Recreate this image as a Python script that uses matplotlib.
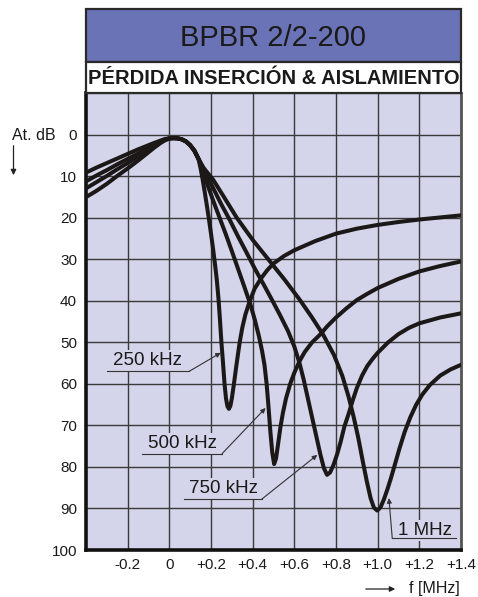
import matplotlib
matplotlib.use('Agg')
import matplotlib.pyplot as plt
from matplotlib.patches import Rectangle, FancyArrowPatch
from matplotlib import font_manager

# Attenuation curves (f offset in MHz, attenuation in dB)
f_250k = [-0.4, -0.35, -0.3, -0.25, -0.2, -0.15, -0.1, -0.07, -0.04, -0.02, 0.0, 0.02, 0.04,
          0.06, 0.08, 0.1, 0.12, 0.14, 0.15, 0.16, 0.17, 0.18, 0.19, 0.2, 0.21, 0.22, 0.228,
          0.236, 0.243, 0.25, 0.257, 0.265, 0.272, 0.279, 0.286, 0.293, 0.3, 0.31, 0.322, 0.337,
          0.35, 0.365, 0.385, 0.41, 0.44, 0.47, 0.5, 0.55, 0.6, 0.7, 0.8, 0.9, 1.0, 1.1, 1.2,
          1.3, 1.4]
at_250k = [15.0, 13.5, 11.8, 9.9, 8.1, 6.2, 4.2, 3.0, 1.9, 1.3, 0.9, 0.8, 0.85,
           1.1, 1.6, 2.5, 3.8, 5.8, 8.1, 10.8, 13.8, 17.0, 20.3, 23.8, 27.5, 31.5, 35.0,
           39.5, 44.5, 50.0, 54.5, 60.0, 63.5, 65.4, 66.0, 65.3, 63.5, 60.0, 55.5, 50.2,
           46.5, 43.3, 40.2, 37.0, 34.6, 32.6, 31.0, 29.2, 27.8, 25.6, 23.8, 22.6, 21.7, 21.0, 20.4,
           19.9, 19.4]

f_500k = [-0.4, -0.35, -0.3, -0.25, -0.2, -0.15, -0.1, -0.07, -0.04, -0.02, 0.0, 0.02, 0.04,
          0.06, 0.08, 0.1, 0.12, 0.14, 0.155, 0.17, 0.19, 0.21, 0.24, 0.27, 0.3, 0.33, 0.36,
          0.39, 0.41, 0.43, 0.445, 0.457, 0.467, 0.476, 0.485, 0.494, 0.503, 0.512, 0.522, 0.533,
          0.545, 0.56, 0.58, 0.6, 0.625, 0.65, 0.685, 0.722, 0.76, 0.8, 0.85, 0.9, 0.95, 1.0,
          1.1, 1.2, 1.3, 1.4]
at_500k = [12.9, 11.4, 9.9, 8.3, 6.8, 5.2, 3.6, 2.6, 1.7, 1.2, 0.85, 0.8, 0.85,
           1.1, 1.6, 2.5, 3.8, 5.8, 7.9, 10.2, 13.0, 15.8, 19.8, 23.8, 28.0, 32.3, 36.6,
           41.0, 44.5, 48.5, 52.0, 55.5, 60.0, 65.5, 71.5, 76.5, 79.3, 78.0, 74.5, 70.5,
           67.0, 63.5, 60.0, 57.3, 54.5, 52.3, 50.0, 48.2, 46.0, 44.0, 41.8, 39.8, 38.3, 36.9,
           34.7, 32.9, 31.6, 30.5]

f_750k = [-0.4, -0.35, -0.3, -0.25, -0.2, -0.15, -0.1, -0.07, -0.04, -0.02, 0.0, 0.02, 0.04,
          0.06, 0.08, 0.1, 0.12, 0.14, 0.16, 0.19, 0.22, 0.25, 0.29, 0.33, 0.37, 0.41, 0.45,
          0.49, 0.53, 0.57, 0.6, 0.625, 0.645, 0.665, 0.685, 0.705, 0.725, 0.742, 0.757, 0.772,
          0.788, 0.805, 0.822, 0.84, 0.86, 0.88, 0.9, 0.925, 0.95, 0.975, 1.0, 1.05, 1.1, 1.15,
          1.2, 1.3, 1.4]
at_750k = [11.2, 9.8, 8.5, 7.1, 5.8, 4.5, 3.1, 2.3, 1.55, 1.1, 0.85, 0.8, 0.85,
           1.1, 1.6, 2.5, 3.8, 5.8, 7.9, 10.8, 13.8, 16.8, 20.5, 24.5, 28.3, 32.2, 35.8,
           39.5, 43.3, 47.3, 51.0, 55.0, 59.0, 63.5, 68.0, 72.5, 77.0, 80.3, 81.9, 81.3,
           79.5, 77.0, 74.0, 70.3, 67.3, 64.0, 61.0, 58.0, 55.7, 54.0, 52.5, 50.0, 48.0, 46.5,
           45.4, 44.0, 43.0]

f_1m = [-0.4, -0.35, -0.3, -0.25, -0.2, -0.15, -0.1, -0.07, -0.04, -0.02, 0.0, 0.02, 0.04,
        0.06, 0.08, 0.1, 0.12, 0.14, 0.165, 0.21, 0.26, 0.324, 0.4, 0.48, 0.555, 0.627, 0.685,
        0.739, 0.79, 0.83, 0.86, 0.885, 0.907, 0.928, 0.948, 0.966, 0.982, 0.998, 1.014, 1.03,
        1.048, 1.066, 1.085, 1.105, 1.13, 1.157, 1.185, 1.215, 1.25, 1.3, 1.35, 1.4]
at_1m = [9.1, 7.9, 6.8, 5.7, 4.6, 3.5, 2.5, 1.9, 1.35, 1.0, 0.85, 0.8, 0.85,
         1.1, 1.6, 2.5, 3.8, 5.8, 8.0, 10.8, 14.8, 20.0, 25.3, 30.3, 35.0, 39.8, 44.0,
         48.2, 53.0, 58.0, 63.0, 68.0, 73.0, 78.5, 83.5, 87.5, 89.8, 90.5, 89.7, 87.8,
         85.2, 82.3, 79.0, 75.5, 71.5, 68.0, 65.0, 62.5, 60.3, 58.0, 56.5, 55.4]

x_ticks = [-0.2, 0.0, 0.2, 0.4, 0.6, 0.8, 1.0, 1.2, 1.4]
x_labels = ['-0.2', '0', '+0.2', '+0.4', '+0.6', '+0.8', '+1.0', '+1.2', '+1.4']
y_ticks = [0, 10, 20, 30, 40, 50, 60, 70, 80, 90, 100]
y_labels = [str(v) for v in y_ticks]

W, H = 478, 597
BG = '#d4d4ea'
INK = '#1c1818'

plt.rcParams['font.family'] = ['Liberation Sans', 'DejaVu Sans']

# condensed bold face for the subtitle if it exists
names = {f.name for f in font_manager.fontManager.ttflist}
if 'Liberation Sans Narrow' in names:
    sub_font, sub_size = 'Liberation Sans Narrow', 17
else:
    sub_font, sub_size = 'Liberation Sans', 14.5

fig = plt.figure(figsize=(W / 100, H / 100), dpi=100)


def fx(px):
    return px / W


def fy(py):
    return 1 - py / H


# header boxes
fig.add_artist(Rectangle((fx(86), fy(61.7)), fx(375), 52.4 / H, transform=fig.transFigure,
                         facecolor='#6b73b7', edgecolor='#2a2a2a', lw=1.6))
fig.add_artist(Rectangle((fx(86), fy(93.3)), fx(375), 31.6 / H, transform=fig.transFigure,
                         facecolor='white', edgecolor='#2a2a2a', lw=1.6))
fig.text(fx(273.5), fy(37.5), 'BPBR 2/2-200', ha='center', va='center', fontsize=21, color='#1a1a1a')
fig.text(fx(273.5), fy(79), 'PÉRDIDA INSERCIÓN & AISLAMIENTO', ha='center', va='center',
         fontsize=sub_size, fontweight='bold', family=sub_font, color='#1a1a1a')

ax = fig.add_axes([fx(86), (H - 550) / H, fx(375), (550 - 93.3) / H])
ax.set_facecolor(BG)
ax.set_xlim(-0.4, 1.4)
ax.set_ylim(100, -10)
ax.set_xticks(x_ticks)
ax.set_xticklabels(x_labels)
ax.set_yticks(y_ticks)
ax.set_yticklabels(y_labels)
ax.tick_params(length=0, labelsize=11, colors='#1a1a1a')
ax.tick_params(axis='x', pad=6)
ax.tick_params(axis='y', pad=6.5)
ax.grid(True, color='#3a3a3a', lw=1.0)
ax.set_axisbelow(True)

ax.spines['left'].set_linewidth(2.6)
ax.spines['left'].set_color('#111111')
ax.spines['bottom'].set_linewidth(2.6)
ax.spines['bottom'].set_color('#111111')
ax.spines['right'].set_linewidth(2.0)
ax.spines['right'].set_color('#555555')
ax.spines['top'].set_linewidth(1.6)
ax.spines['top'].set_color('#2a2a2a')

for f, a in [(f_250k, at_250k), (f_500k, at_500k), (f_750k, at_750k), (f_1m, at_1m)]:
    ax.plot(f, a, color=INK, lw=2.9, solid_joinstyle='round', solid_capstyle='round', zorder=4)

# curve labels with underline and leader arrow
lead = dict(arrowstyle='-|>', lw=0.8, color='#333333', mutation_scale=7, shrinkA=0, shrinkB=0)
labels = [
    ('250 kHz', (-0.103, 54.4), [(-0.30, 57.0), (0.094, 57.0)], (0.247, 52.5)),
    ('500 kHz', (0.061, 74.3), [(-0.131, 76.8), (0.253, 76.8)], (0.462, 65.8)),
    ('750 kHz', (0.262, 85.3), [(0.07, 87.7), (0.445, 87.7)], (0.71, 77.1)),
]
for txt, pos, line, tip in labels:
    ax.text(pos[0], pos[1], txt, ha='center', va='center', fontsize=13.5, color='#1a1a1a',
            bbox=dict(facecolor=BG, edgecolor='none', pad=1.5), zorder=3)
    ax.plot([line[0][0], line[1][0]], [line[0][1], line[1][1]], color='#333333', lw=0.8, zorder=3)
    ax.annotate('', xy=tip, xytext=line[1], arrowprops=lead, zorder=3)

ax.text(1.226, 95.2, '1 MHz', ha='center', va='center', fontsize=13.5, color='#1a1a1a',
        bbox=dict(facecolor=BG, edgecolor='none', pad=1.5), zorder=3)
ax.plot([1.07, 1.374], [97.2, 97.2], color='#333333', lw=0.8, zorder=3)
ax.annotate('', xy=(1.054, 87.5), xytext=(1.07, 97.2), arrowprops=lead, zorder=3)

# axis captions
fig.text(fx(12), fy(135), 'At. dB', ha='left', va='center', fontsize=11.5, color='#1a1a1a')
fig.add_artist(FancyArrowPatch((fx(13.5), fy(143)), (fx(13.5), fy(178)),
               transform=fig.transFigure, arrowstyle='-|>', mutation_scale=8, lw=0.9,
               color='#222222'))
fig.text(fx(409), fy(588), 'f [MHz]', ha='left', va='center', fontsize=11.5, color='#1a1a1a')
fig.add_artist(FancyArrowPatch((fx(363), fy(589)), (fx(398), fy(589)),
               transform=fig.transFigure, arrowstyle='-|>', mutation_scale=8, lw=0.9,
               color='#222222'))

fig.savefig('out.png', dpi=100, facecolor='white')
